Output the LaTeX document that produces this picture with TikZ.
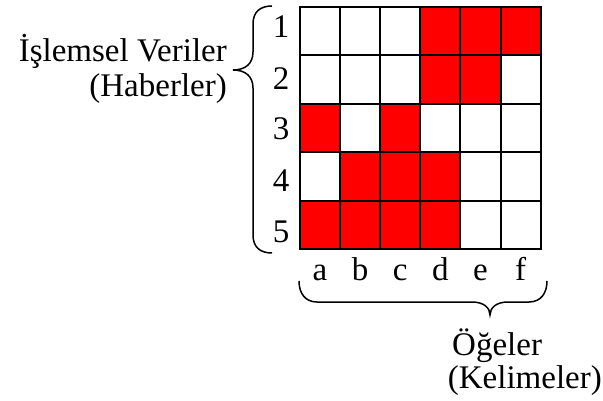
\documentclass[tikz,border=0pt]{standalone}
\usepackage{fontspec}
\setmainfont{Liberation Serif}
\begin{document}
\begin{tikzpicture}[x=1pt,y=-1pt,
  lbl/.style={font=\fontsize{33}{39}\selectfont,inner sep=0pt},
  cell/.style={draw=black,line width=2pt},
  brace/.style={draw=black,line width=1.5pt}]
\useasboundingbox (0,0) rectangle (603,401);
\def\cw{40.1}\def\rh{48.4}
% red cells
\foreach \c/\r in {3/0,4/0,5/0,3/1,4/1,0/2,2/2,1/3,2/3,3/3,0/4,1/4,2/4,3/4}{
  \fill[red] (300+\c*\cw,7+\r*\rh) rectangle ++(\cw,\rh);
}
% grid
\foreach \r in {0,...,4}{
  \foreach \c in {0,...,5}{
    \draw[cell] (300+\c*\cw,7+\r*\rh) rectangle ++(\cw,\rh);
  }
}
% row numbers
\foreach \n/\y in {1/38,2/90,3/140,4/192,5/243}{
  \node[lbl,anchor=base] (r\n) at (281,\y) {\n};
}
% column letters
\foreach \l [count=\i from 0] in {a,b,c,d,e,f}{
  \node[lbl,anchor=base] (c\l) at (320+\i*\cw,280) {\l};
}
% left brace
\coordinate (lbT) at (272,6);
\coordinate (lbB) at (272,253);
\draw[brace] (lbT) .. controls (260,6) and (253,12) .. (253,24) -- (253,52)
  .. controls (253,64) and (245,70) .. (233,70)
  .. controls (245,70) and (253,76) .. (253,88) -- (253,235)
  .. controls (253,247) and (260,253) .. (lbB);
% bottom brace
\coordinate (bbL) at (299,281);
\coordinate (bbR) at (547,281);
\draw[brace] (bbL) .. controls (299,293) and (305,302) .. (317,302) -- (472,302)
  .. controls (484,302) and (490,308) .. (490,315)
  .. controls (490,308) and (496,302) .. (508,302) -- (529,302)
  .. controls (541,302) and (547,293) .. (bbR);
% labels
\node[lbl,anchor=base east] (isl) at (227,62) {İşlemsel Veriler};
\node[lbl,anchor=base east] (hab) at (227,97) {(Haberler)};
\node[lbl,anchor=base west] (oge) at (452,355) {Öğeler};
\node[lbl,anchor=base east] (kel) at (602,388) {(Kelimeler)};
\end{tikzpicture}
\end{document}
